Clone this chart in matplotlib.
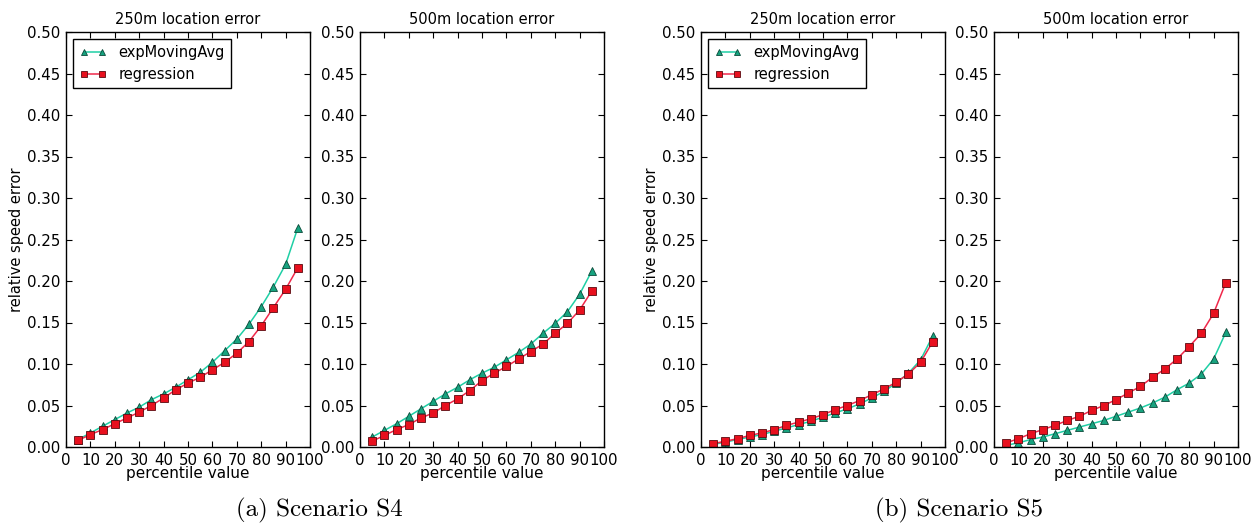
import matplotlib
matplotlib.use("Agg")
import matplotlib.pyplot as plt
import numpy as np

percentiles = [5, 10, 15, 20, 25, 30, 35, 40, 45, 50, 55, 60, 65, 70, 75, 80, 85, 90, 95]

s4_250_exp = [0.009, 0.017, 0.025, 0.033, 0.041, 0.048, 0.057, 0.064, 0.072, 0.081,
              0.090, 0.102, 0.116, 0.130, 0.148, 0.169, 0.193, 0.220, 0.264]
s4_250_reg = [0.008, 0.015, 0.021, 0.028, 0.035, 0.042, 0.050, 0.059, 0.069, 0.077,
              0.084, 0.093, 0.102, 0.113, 0.127, 0.146, 0.168, 0.190, 0.216]
s4_500_exp = [0.012, 0.020, 0.028, 0.037, 0.046, 0.055, 0.064, 0.072, 0.081, 0.089,
              0.096, 0.105, 0.114, 0.124, 0.137, 0.149, 0.163, 0.184, 0.212]
s4_500_reg = [0.007, 0.014, 0.021, 0.027, 0.035, 0.041, 0.050, 0.058, 0.068, 0.080,
              0.089, 0.097, 0.106, 0.115, 0.124, 0.137, 0.149, 0.165, 0.188]
s5_250_exp = [0.003, 0.006, 0.009, 0.012, 0.015, 0.019, 0.023, 0.027, 0.031, 0.036,
              0.041, 0.046, 0.052, 0.059, 0.067, 0.077, 0.089, 0.105, 0.134]
s5_250_reg = [0.004, 0.007, 0.010, 0.014, 0.017, 0.021, 0.026, 0.030, 0.034, 0.039,
              0.045, 0.050, 0.056, 0.063, 0.070, 0.078, 0.088, 0.102, 0.127]
s5_500_exp = [0.002, 0.005, 0.009, 0.012, 0.016, 0.020, 0.024, 0.028, 0.032, 0.037,
              0.042, 0.047, 0.053, 0.060, 0.069, 0.077, 0.088, 0.106, 0.138]
s5_500_reg = [0.005, 0.010, 0.016, 0.021, 0.026, 0.032, 0.037, 0.044, 0.050, 0.057,
              0.065, 0.073, 0.084, 0.094, 0.106, 0.121, 0.137, 0.161, 0.198]

titles = ["250m location error", "500m location error", "250m location error", "500m location error"]
captions = ["(a) Scenario S4", "(b) Scenario S5"]
series_names = ["expMovingAvg", "regression"]
xticks = list(range(0, 101, 10))
yticks = [0.0, 0.05, 0.10, 0.15, 0.20, 0.25, 0.30, 0.35, 0.40, 0.45, 0.50]

W, H = 1260, 531
fig = plt.figure(figsize=(W / 100, H / 100), dpi=100)

lefts = [66, 360, 701, 994]
right_w = 244
top, bottom = 32, 447

data = [(s4_250_exp, s4_250_reg), (s4_500_exp, s4_500_reg),
        (s5_250_exp, s5_250_reg), (s5_500_exp, s5_500_reg)]

exp_line = "#1fcfa5"
exp_face = "#17a37f"
reg_line = "#f0284a"
reg_face = "#e8101e"

for i, (l, (e, r)) in enumerate(zip(lefts, data)):
    ax = fig.add_axes([l / W, (H - bottom) / H, right_w / W, (bottom - top) / H])
    ax.plot(percentiles, e, color=exp_line, lw=1.1, marker="^", markersize=5.8,
            markerfacecolor=exp_face, markeredgecolor="#0b4a3a", markeredgewidth=0.6,
            label=series_names[0])
    ax.plot(percentiles, r, color=reg_line, lw=1.1, marker="s", markersize=5.6,
            markerfacecolor=reg_face, markeredgecolor="#5a0a10", markeredgewidth=0.6,
            label=series_names[1])
    ax.set_xlim(0, 100)
    ax.set_ylim(0, 0.5)
    ax.set_xticks(xticks)
    ax.set_yticks(yticks)
    ax.set_yticklabels([f"{v:.2f}" for v in yticks])
    ax.tick_params(direction="in", top=True, right=True, length=4, width=0.8,
                   labelsize=10.8, pad=4)
    for sp in ax.spines.values():
        sp.set_linewidth(1.0)
    ax.set_title(titles[i], fontsize=10.5, pad=6)
    ax.set_xlabel("percentile value", fontsize=11, labelpad=-1)
    if i in (0, 2):
        ax.set_ylabel("relative speed error", fontsize=10.5, labelpad=2)
        leg = ax.legend(loc="upper left", numpoints=2, fontsize=10.5, fancybox=False,
                        framealpha=1, edgecolor="black", borderaxespad=0.45,
                        handlelength=1.9, borderpad=0.45, labelspacing=0.45,
                        markerscale=0.8)
        leg.get_frame().set_linewidth(1.0)

fig.text(319 / W, 1 - 510 / H, captions[0], fontsize=18, family="cmr10",
         ha="center", va="center")
fig.text(959 / W, 1 - 510 / H, captions[1], fontsize=18, family="cmr10",
         ha="center", va="center")

fig.savefig("out.png", dpi=100)
